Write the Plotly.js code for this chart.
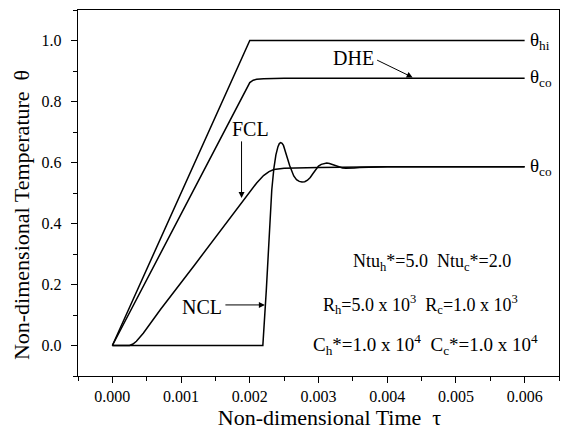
<!DOCTYPE html>
<html>
<head>
<meta charset="utf-8">
<script src="https://cdn.plot.ly/plotly-3.0.1.min.js"></script>
<style>html,body{margin:0;padding:0;background:#fff;}#chart{width:568px;height:430px;}</style>
</head>
<body>
<div id="chart"></div>
<script>
// theta_hi (inlet hot) response
var tauHi = [0, 0.002, 0.006];
var thetaHi = [0, 1.0, 1.0];

// DHE theta_co response
var tauDHE = [0, 0.0019, 0.002, 0.00205, 0.0021, 0.0022, 0.0025, 0.006];
var thetaDHE = [0, 0.820, 0.862, 0.870, 0.873, 0.875, 0.876, 0.876];

// FCL theta_co response
var tauFCL = [0, 0.00025, 0.0003, 0.00035, 0.00045, 0.0007, 0.0012, 0.0017, 0.0019, 0.00205, 0.0021, 0.0022, 0.00228, 0.00235, 0.0025, 0.003, 0.004, 0.006];
var thetaFCL = [0, 0, 0.005, 0.014, 0.04, 0.118, 0.265, 0.415, 0.474, 0.518, 0.533, 0.557, 0.570, 0.577, 0.581, 0.584, 0.586, 0.586];

// NCL theta_co response
var tauNCL = [0, 0.00219, 0.00224, 0.00229, 0.00232, 0.00235, 0.00238, 0.00241, 0.00243, 0.00245, 0.00247, 0.00249, 0.00252, 0.00255, 0.00258, 0.00261, 0.00264, 0.00268, 0.00272, 0.00276, 0.0028, 0.00284, 0.00288, 0.00292, 0.00296, 0.003, 0.00304, 0.00308, 0.00312, 0.00316, 0.0032, 0.00325, 0.0033, 0.00335, 0.0034, 0.00346, 0.00352, 0.0036, 0.0037, 0.004, 0.006];
var thetaNCL = [0, 0, 0.18, 0.41, 0.51, 0.58, 0.625, 0.652, 0.662, 0.665, 0.663, 0.656, 0.637, 0.612, 0.590, 0.570, 0.556, 0.544, 0.538, 0.536, 0.537, 0.542, 0.551, 0.564, 0.578, 0.588, 0.594, 0.597, 0.598, 0.597, 0.594, 0.589, 0.585, 0.582, 0.581, 0.581, 0.582, 0.584, 0.585, 0.586, 0.586];

var xTickVals = [0, 0.001, 0.002, 0.003, 0.004, 0.005, 0.006];
var xTickText = ['0.000', '0.001', '0.002', '0.003', '0.004', '0.005', '0.006'];
var yTickVals = [0, 0.2, 0.4, 0.6, 0.8, 1.0];
var yTickText = ['0.0', '0.2', '0.4', '0.6', '0.8', '1.0'];

var serif = 'Liberation Serif, Times New Roman, Tinos, DejaVu Serif, serif';
var lineStyle = {color: '#000', width: 1.5};

var traces = [
  {x: tauHi, y: thetaHi, mode: 'lines', line: lineStyle, name: 'theta_hi'},
  {x: tauDHE, y: thetaDHE, mode: 'lines', line: lineStyle, name: 'DHE'},
  {x: tauFCL, y: thetaFCL, mode: 'lines', line: lineStyle, name: 'FCL'},
  {x: tauNCL, y: thetaNCL, mode: 'lines', line: lineStyle, name: 'NCL'}
];

function txt(x, y, t, size, xanchor) {
  return {x: x, y: y, xref: 'x', yref: 'y', text: t, showarrow: false,
          font: {family: serif, size: size, color: '#000'}, xanchor: xanchor || 'center', yanchor: 'middle'};
}
function arrow(x, y, ax, ay) {
  return {x: x, y: y, xref: 'x', yref: 'y', text: '', showarrow: true, ax: ax, ay: ay,
          arrowhead: 2, arrowsize: 1.2, arrowwidth: 1, arrowcolor: '#000', font: {size: 1}};
}

var layout = {
  width: 568, height: 430,
  margin: {l: 78, r: 9, t: 10, b: 54},
  paper_bgcolor: '#fff', plot_bgcolor: '#fff',
  showlegend: false,
  font: {family: serif, color: '#000'},
  xaxis: {
    range: [-0.0005, 0.0065], tickvals: xTickVals, ticktext: xTickText,
    ticks: 'outside', ticklen: 6, tickwidth: 1, tickcolor: '#000',
    minor: {tickvals: [-0.0005, 0.0005, 0.0015, 0.0025, 0.0035, 0.0045, 0.0055, 0.0065], ticks: 'outside', ticklen: 4, tickcolor: '#000', showgrid: false},
    showline: true, linecolor: '#000', linewidth: 1.2, mirror: true,
    showgrid: false, zeroline: false,
    tickfont: {family: serif, size: 16, color: '#000'},
    title: {text: '&nbsp;&nbsp;&nbsp;&nbsp;Non-dimensional Time  τ', font: {family: serif, size: 22, color: '#000'}, standoff: 8}
  },
  yaxis: {
    range: [-0.1, 1.1], tickvals: yTickVals, ticktext: yTickText,
    ticks: 'outside', ticklen: 6, tickwidth: 1, tickcolor: '#000',
    ticklabelstandoff: 6,
    minor: {tickvals: [-0.1, 0.1, 0.3, 0.5, 0.7, 0.9, 1.1], ticks: 'outside', ticklen: 4, tickcolor: '#000', showgrid: false},
    showline: true, linecolor: '#000', linewidth: 1.2, mirror: true,
    showgrid: false, zeroline: false,
    tickfont: {family: serif, size: 16, color: '#000'},
    title: {text: 'Non-dimensional Temperature  θ&nbsp;&nbsp;&nbsp;&nbsp;&nbsp;&nbsp;&nbsp;&nbsp;', font: {family: serif, size: 22, color: '#000'}, standoff: 5}
  },
  annotations: [
    txt(0.00605, 1.0, 'θ<sub>hi</sub>', 19, 'left'),
    txt(0.00605, 0.876, 'θ<sub>co</sub>', 19, 'left'),
    txt(0.00605, 0.586, 'θ<sub>co</sub>', 19, 'left'),
    txt(0.00351, 0.942, 'DHE', 20),
    arrow(0.00437, 0.879, -37, -18),
    txt(0.00201, 0.709, 'FCL', 20),
    arrow(0.00188, 0.484, 0, -58),
    txt(0.0013, 0.127, 'NCL', 20),
    arrow(0.00222, 0.133, -41, 0),
    txt(0.00465, 0.273, 'Ntu<sub>h</sub>*=5.0  Ntu<sub>c</sub>*=2.0', 18),
    txt(0.00449, 0.133, 'R<sub>h</sub>=5.0 x 10<sup>3</sup>  R<sub>c</sub>=1.0 x 10<sup>3</sup>', 18),
    txt(0.00456, 0.004, 'C<sub>h</sub>*=1.0 x 10<sup>4</sup>  C<sub>c</sub>*=1.0 x 10<sup>4</sup>', 19)
  ]
};

Plotly.newPlot('chart', traces, layout, {displayModeBar: false, staticPlot: true});
</script>
</body>
</html>
